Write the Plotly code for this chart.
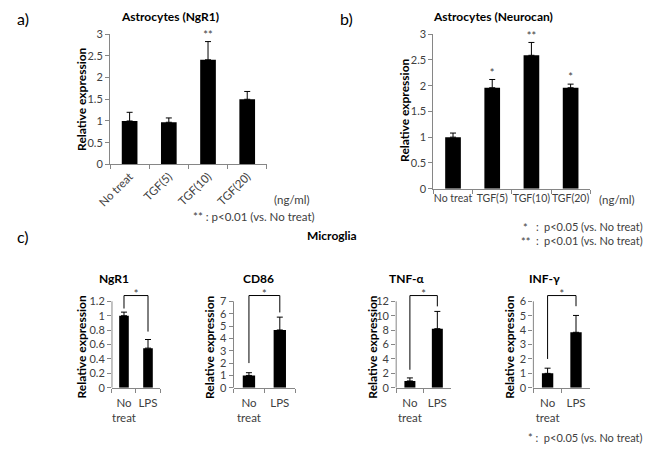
import plotly.graph_objects as go

# ---------------- data ----------------
astro_cats = ["No treat", "TGF(5)", "TGF(10)", "TGF(20)"]
ngr1_astro_mean = [1.0, 0.97, 2.41, 1.50]
ngr1_astro_err = [0.20, 0.10, 0.42, 0.18]
ngr1_astro_sig = ["", "", "**", ""]

neurocan_mean = [1.0, 1.96, 2.59, 1.96]
neurocan_err = [0.08, 0.16, 0.25, 0.07]
neurocan_sig = ["", "*", "**", "*"]

micro_cats = ["No treat", "LPS"]
micro_ticktext = ["No<br>treat", "LPS"]
micro_genes = ["NgR1", "CD86", "TNF-α", "INF-γ"]
micro_mean = {"NgR1": [1.0, 0.55], "CD86": [1.0, 4.68], "TNF-α": [0.95, 8.2], "INF-γ": [1.0, 3.85]}
micro_err = {"NgR1": [0.05, 0.12], "CD86": [0.22, 1.04], "TNF-α": [0.42, 2.4], "INF-γ": [0.36, 1.17]}
# bracket: [left leg bottom, right leg bottom, top]
micro_bracket = {"NgR1": [1.10, 0.78, 1.28], "CD86": [2.0, 6.1, 7.47], "TNF-α": [2.5, 11.3, 12.8], "INF-γ": [2.0, 5.66, 6.4]}
micro_ymax = {"NgR1": 1.2, "CD86": 7, "TNF-α": 12, "INF-γ": 6}
micro_dtick = {"NgR1": 0.2, "CD86": 1, "TNF-α": 2, "INF-γ": 1}

astro_ticks = [0, 0.5, 1, 1.5, 2, 2.5, 3]

# ---------------- layout helpers ----------------
W, H = 650, 454
FONT = "Lato"
AX = "#868686"
TXT = "#404040"


def xd(p0, p1):
    return [p0 / W, p1 / W]


def yd(top, bottom):
    return [1 - bottom / H, 1 - top / H]


fig = go.Figure()
annotations = []
shapes = []


def ann(text, x, y, size=11, bold=False, xanchor="center", angle=0, color="black"):
    t = f"<b>{text}</b>" if bold else text
    annotations.append(dict(text=t, x=x / W, y=1 - y / H, xref="paper", yref="paper",
                            xanchor=xanchor, yanchor="middle", showarrow=False,
                            textangle=angle, font=dict(family=FONT, size=size, color=color)))


def bars(xa, ya, cats, mean, err):
    fig.add_trace(go.Bar(x=cats, y=mean, xaxis=xa, yaxis=ya, marker=dict(color="black", line=dict(width=0)),
                         error_y=dict(type="data", symmetric=False, array=err, arrayminus=[0] * len(err),
                                      color="black", thickness=1, width=3),
                         showlegend=False, hoverinfo="skip"))


def xaxis_style(size=11.5, **kw):
    d = dict(type="category", showline=True, linecolor=AX, linewidth=1, ticks="outside", ticklen=4,
             tickcolor=AX, tickson="boundaries", showgrid=False, zeroline=False,
             tickfont=dict(family=FONT, size=size, color=TXT), fixedrange=True)
    d.update(kw)
    return d


def yaxis_style(**kw):
    d = dict(showline=True, linecolor=AX, linewidth=1, ticks="outside", ticklen=4, tickcolor=AX,
             showgrid=False, zeroline=False, tickfont=dict(family=FONT, size=11, color=TXT), fixedrange=True)
    d.update(kw)
    return d


layout = {}

# ---- panel a ----
bars("x", "y", astro_cats, ngr1_astro_mean, ngr1_astro_err)
fig.add_trace(go.Scatter(x=astro_cats, y=[m + e for m, e in zip(ngr1_astro_mean, ngr1_astro_err)],
                         text=ngr1_astro_sig, mode="text", textposition="top center", cliponaxis=False,
                         textfont=dict(family=FONT, size=11, color=TXT), xaxis="x", yaxis="y",
                         showlegend=False, hoverinfo="skip"))
layout["xaxis"] = xaxis_style(domain=xd(99, 259), anchor="y", tickangle=-45)
layout["yaxis"] = yaxis_style(domain=yd(28, 162), anchor="x", range=[0, 3], tickvals=astro_ticks)

# ---- panel b ----
bars("x2", "y2", astro_cats, neurocan_mean, neurocan_err)
fig.add_trace(go.Scatter(x=astro_cats, y=[m + e for m, e in zip(neurocan_mean, neurocan_err)],
                         text=neurocan_sig, mode="text", textposition="top center", cliponaxis=False,
                         textfont=dict(family=FONT, size=11, color=TXT), xaxis="x2", yaxis="y2",
                         showlegend=False, hoverinfo="skip"))
layout["xaxis2"] = xaxis_style(size=10.5, domain=xd(429, 589), anchor="y2", tickangle=0)
layout["yaxis2"] = yaxis_style(domain=yd(28, 187), anchor="x2", range=[0, 3], tickvals=astro_ticks)

# ---- panel c ----
c_x = {"NgR1": (101, 150), "CD86": (225, 288), "TNF-α": (391, 447), "INF-γ": (531, 589)}
c_base, c_top = 392, 303
for i, g in enumerate(micro_genes):
    n = i + 3
    xa, ya = f"x{n}", f"y{n}"
    bars(xa, ya, micro_cats, micro_mean[g], micro_err[g])
    lb, rb, top = micro_bracket[g]
    fig.add_trace(go.Scatter(x=[micro_cats[0], micro_cats[0], micro_cats[1], micro_cats[1]],
                             y=[lb, top, top, rb], mode="lines", line=dict(color="black", width=1),
                             xaxis=xa, yaxis=ya, showlegend=False, hoverinfo="skip"))
    fig.add_trace(go.Scatter(x=[0.5], y=[top], text=["*"], mode="text", textposition="middle center",
                             cliponaxis=False, textfont=dict(family=FONT, size=11, color=TXT),
                             xaxis=f"x{n+10}", yaxis=ya, showlegend=False, hoverinfo="skip"))
    ymax = micro_ymax[g]
    rtop = ymax * 1.1
    top_px = c_base - rtop * (c_base - c_top) / ymax
    p0, p1 = c_x[g]
    layout[f"xaxis{n}"] = xaxis_style(domain=xd(p0, p1), anchor=ya, tickvals=micro_cats,
                                      ticktext=micro_ticktext, tickangle=0, ticklabelstandoff=4)
    layout[f"xaxis{n+10}"] = dict(domain=xd(p0, p1), anchor=ya, overlaying=f"x{n}", range=[0, 1],
                                   visible=False, fixedrange=True)
    nt = round(ymax / micro_dtick[g])
    tv = [round(k * micro_dtick[g], 2) for k in range(nt + 1)]
    layout[f"yaxis{n}"] = yaxis_style(domain=yd(top_px, c_base), anchor=xa, range=[0, rtop],
                                      tickvals=tv, showline=False)
    shapes.append(dict(type="line", xref=f"x{n} domain", yref=ya, x0=0, x1=0, y0=0, y1=ymax,
                       line=dict(color=AX, width=1)))

# ---------------- text ----------------
ann("a)", 2, 12, size=16, xanchor="left")
ann("Astrocytes (NgR1)", 160, 10, size=12, bold=True)
ann("b)", 332, 12, size=16, xanchor="left")
ann("Astrocytes (Neurocan)", 490, 10, size=12, bold=True)
ann("Relative expression", 70, 95, size=12, bold=True, angle=-90)
ann("Relative expression", 400, 107, size=12, bold=True, angle=-90)
ann("(ng/ml)", 285, 198, size=11.5, color=TXT)
ann("(ng/ml)", 616, 198, size=11.5, color=TXT)
ann("** : p<0.01 (vs. No treat)", 310, 216, size=11.5, xanchor="right", color=TXT)
ann("*", 523, 227, xanchor="center", color=TXT)
ann("**", 523, 241, xanchor="center", color=TXT)
ann(":", 535, 226, xanchor="center", color=TXT)
ann(":", 535, 240, xanchor="center", color=TXT)
ann("p<0.05 (vs. No treat)", 645, 226, size=11, xanchor="right", color=TXT)
ann("p<0.01 (vs. No treat)", 645, 240, size=11, xanchor="right", color=TXT)
ann("c)", 2, 236, size=16, xanchor="left")
ann("Microglia", 325, 235, size=12, bold=True)
c_title_x = {"NgR1": 103, "CD86": 250, "TNF-α": 402, "INF-γ": 542}
c_ytitle_x = {"NgR1": 70, "CD86": 201, "TNF-α": 367, "INF-γ": 507}
for g in micro_genes:
    ann(g, c_title_x[g], 280, size=12, bold=True)
    ann("Relative expression", c_ytitle_x[g], 350, size=12, bold=True, angle=-90)
ann("* :  p<0.05 (vs. No treat)", 645, 443, size=11, xanchor="right", color=TXT)

fig.update_layout(width=W, height=H, margin=dict(l=0, r=0, t=0, b=0), paper_bgcolor="white",
                  plot_bgcolor="white", bargap=0.6, showlegend=False, annotations=annotations,
                  shapes=shapes, font=dict(family=FONT), **layout)
fig.write_html("out.html", config={"displayModeBar": False},
               post_script="document.body.style.margin='0';document.body.style.overflow='hidden';")
